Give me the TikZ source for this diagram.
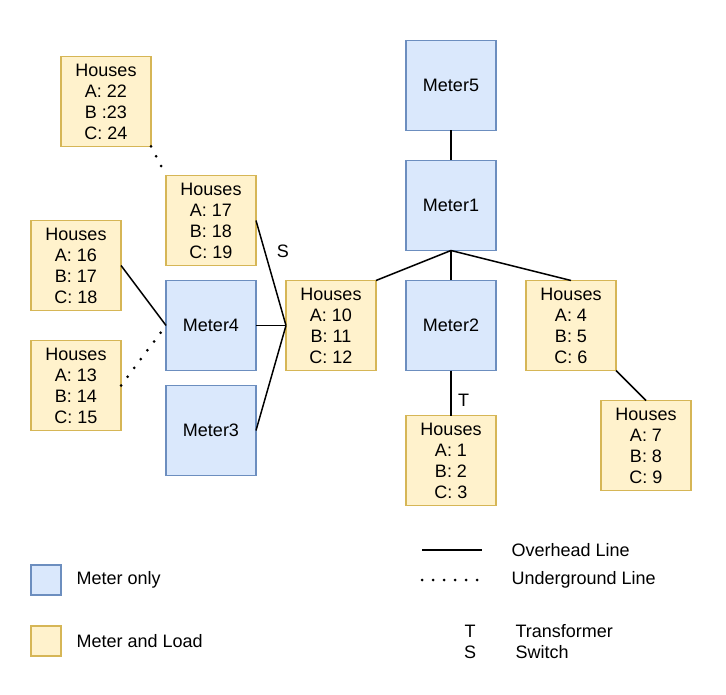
\documentclass[tikz,border=0pt]{standalone}
\usepackage{fontspec}
\setmainfont{Liberation Sans}
\usetikzlibrary{positioning}
\definecolor{meterblue}{HTML}{DAE8FC}
\definecolor{meterborder}{HTML}{6C8EBF}
\definecolor{loadyellow}{HTML}{FFF2CC}
\definecolor{loadborder}{HTML}{D6B656}

\begin{document}
\begin{tikzpicture}[
    node distance=30pt,
    font=\fontsize{18pt}{21pt}\selectfont,
    meter/.style={rectangle, minimum width=90pt, minimum height=90pt, inner sep=0pt, outer sep=0pt, draw=meterborder, fill=meterblue, line width=1.5pt},
    load/.style={rectangle, minimum width=90pt, minimum height=90pt, inner sep=0pt, outer sep=0pt, align=center, draw=loadborder, fill=loadyellow, line width=1.5pt},
    overhead/.style={line width=1.5pt},
    underground/.style={line width=3pt, line cap=round, dash pattern=on 0pt off 11pt}
]
\useasboundingbox (0,0) rectangle (726pt,-695pt);

\node[meter] (meter5) at (451pt,-85.5pt) {Meter5};
\node[meter, below=of meter5] (meter1) {Meter1};
\node[meter, below=of meter1] (meter2) {Meter2};
\node[load, below=45pt of meter2] (houses1) {Houses\\A: 1\\B: 2\\C: 3};
\node[load, right=of meter2] (houses4) {Houses\\A: 4\\B: 5\\C: 6};
\node[load, below right=30pt and -15pt of houses4] (houses7) {Houses\\A: 7\\B: 8\\C: 9};
\node[load, left=of meter2] (houses10) {Houses\\A: 10\\B: 11\\C: 12};
\node[meter, left=of houses10] (meter4) {Meter4};
\node[meter, below=15pt of meter4] (meter3) {Meter3};
\node[load, above=15pt of meter4] (houses17) {Houses\\A: 17\\B: 18\\C: 19};
\node[load, above left=29pt and 15pt of houses17] (houses22) {Houses\\A: 22\\B :23\\C: 24};
\node[load, left=45pt of meter4, yshift=60pt] (houses16) {Houses\\A: 16\\B: 17\\C: 18};
\node[load, below=of houses16] (houses13) {Houses\\A: 13\\B: 14\\C: 15};

\draw[overhead] (meter5) -- (meter1);
\draw[overhead] (meter1) -- (meter2);
\draw[overhead] (meter1.south) -- (houses4.north);
\draw[overhead] (meter1.south) -- (houses10.north east);
\draw[overhead] (meter2) -- node[pos=0.67, right=3pt] (tlabel) {T} (houses1);
\draw[overhead] (houses4.south east) -- (houses7.north);
\draw[overhead] (meter4) -- (houses10);
\draw[overhead] (meter3.east) -- (houses10.west);
\draw[overhead] (houses17.east) -- node[pos=0.29, right=8pt] (slabel) {S} (houses10.west);
\draw[overhead] (houses16.east) -- (meter4.west);
\draw[underground] (houses13.east) -- (meter4.west);
\draw[underground] (houses22.south east) -- (houses17.north west);

% legend
\node[meter, minimum width=30pt, minimum height=30pt] (keymeter) at (46pt,-580pt) {};
\node[right=12pt of keymeter] (keymetertext) {Meter only};
\node[load, minimum width=30pt, minimum height=30pt] (keyload) at (46pt,-641pt) {};
\node[right=12pt of keyload] (keyloadtext) {Meter and Load};

\coordinate (ohstart) at (422pt,-550pt);
\coordinate (ohend) at (482pt,-550pt);
\draw[overhead] (ohstart) -- (ohend);
\node[anchor=west] (ohtext) at (508pt,-550pt) {Overhead Line};
\coordinate (ugstart) at (422pt,-580pt);
\coordinate (ugend) at (478pt,-580pt);
\draw[underground] (ugstart) -- (ugend);
\node[anchor=west] (ugtext) at (508pt,-580pt) {Underground Line};

\node (keyt) at (470pt,-631pt) {T};
\node[anchor=west] (keyttext) at (512pt,-631pt) {Transformer};
\node (keys) at (470pt,-652pt) {S};
\node[anchor=west] (keystext) at (512pt,-652pt) {Switch};

\end{tikzpicture}
\end{document}
